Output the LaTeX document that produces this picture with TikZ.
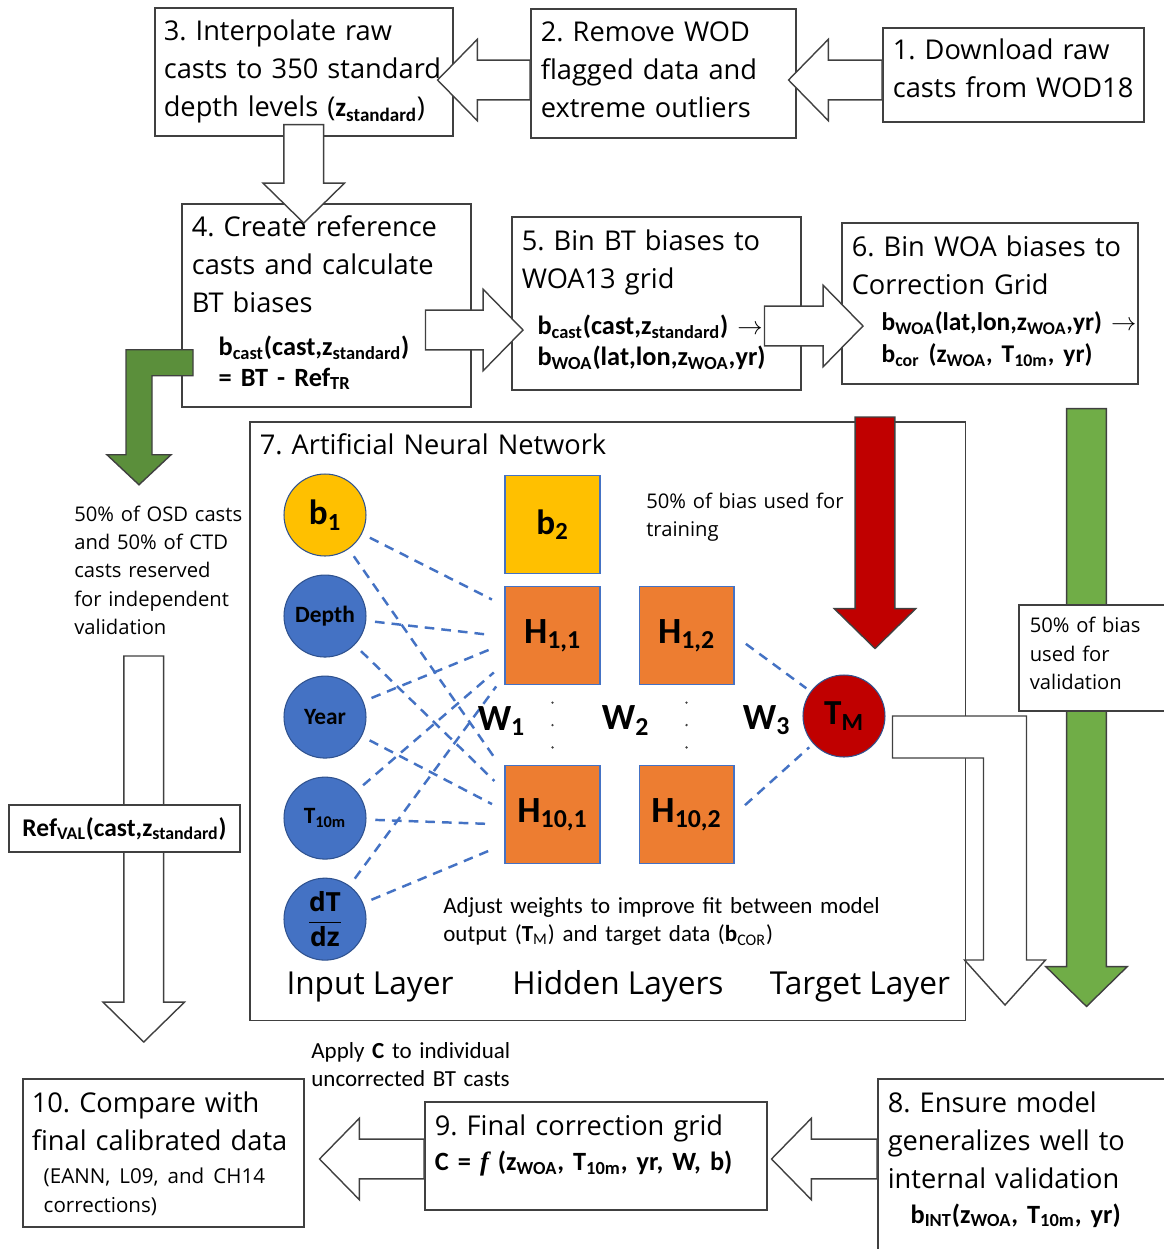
\documentclass[tikz,border=0pt]{standalone}
\usepackage{fontspec}
\setmainfont{Open Sans}
\newfontfamily\calib{Carlito}
\newfontfamily\serifb{Liberation Serif}
\usetikzlibrary{positioning,calc}
\definecolor{boxline}{RGB}{64,64,64}
\definecolor{netyellow}{RGB}{255,192,0}
\definecolor{netblue}{RGB}{68,114,196}
\definecolor{circline}{RGB}{47,82,143}
\definecolor{netorange}{RGB}{237,125,49}
\definecolor{netred}{RGB}{192,0,0}
\definecolor{greenlight}{RGB}{112,173,71}
\definecolor{greendark}{RGB}{91,143,59}
\frenchspacing

\newcommand{\sbs}[1]{\textsubscript{#1}}
\newcommand{\fml}{\calib\bfseries\fontsize{15}{17.6}\selectfont}
% straight block arrow from tail #2 to tip #3
\newcommand{\blockarrow}[3][white]{%
  \draw[blockarrow,fill=#1] let \p1=($#3!22.7pt!#2$) in
    ($#2!11.3pt!90:#3$) -- ($(\p1)!11.3pt!90:#3$) -- ($(\p1)!23.2pt!90:#3$)
    -- #3 -- ($(\p1)!23.2pt!-90:#3$) -- ($(\p1)!11.3pt!-90:#3$)
    -- ($#2!11.3pt!-90:#3$) -- cycle;}

\tikzset{
  stepbox/.style={draw=boxline, line width=0.9pt, fill=white, anchor=north west,
    align=left, inner xsep=0.2cm, inner ysep=0pt, font=\fontsize{15.5}{21.5}\selectfont},
  notetext/.style={align=left, inner sep=0pt, anchor=base west, font=\fontsize{11.5}{16.2}\selectfont},
  calibnote/.style={notetext, font=\calib\fontsize{13.1}{16.4}\selectfont},
  neuron/.style={circle, draw=circline, line width=0.6pt, fill=netblue, minimum size=1.64cm,
    inner sep=0pt, font=\calib\bfseries\fontsize{13.3}{14}\selectfont},
  hidden/.style={rectangle, draw=netblue, line width=0.6pt, fill=netorange, minimum width=1.9cm,
    minimum height=1.96cm, inner sep=0pt, font=\calib\bfseries\fontsize{21}{22}\selectfont},
  biglabel/.style={font=\calib\bfseries\fontsize{20}{22}\selectfont},
  wlabel/.style={font=\calib\bfseries\fontsize{21}{22}\selectfont},
  dashline/.style={netblue, line width=1.4pt, dash pattern=on 5.5pt off 4pt, shorten <=5pt, shorten >=8pt},
  blockarrow/.style={draw=boxline, line width=0.8pt, line join=miter},
  layerlabel/.style={anchor=base, inner sep=0pt, font=\fontsize{18}{20}\selectfont},
}

\begin{document}
\begin{tikzpicture}[x=0.02cm, y=-0.02cm]
\useasboundingbox (0,0) rectangle (1164,1249);

% processing steps
\node[stepbox, inner xsep=0.18cm, text width=5.6cm, text height=0.66cm, text depth=1.9cm] (s3) at (154,7)
  {3. Interpolate raw\\casts to 350 standard\\depth levels ({\calib\bfseries z\sbs{standard}})};
\node[stepbox, text width=4.9cm, text height=0.66cm, text depth=1.92cm] (s2) at (530,8)
  {2. Remove WOD\\flagged data and\\extreme outliers};
\node[stepbox, text width=4.82cm, text height=0.64cm, text depth=1.24cm] (s1) at (882,27)
  {1. Download raw\\casts from WOD18};
\node[stepbox, text width=5.38cm, text height=0.66cm, text depth=3.4cm] (s4) at (181,203)
  {4. Create reference\\casts and calculate\\BT biases\\[2.9pt]
   \hspace*{15.3pt}\mbox{\fml b\sbs{cast}(cast,z\sbs{standard})}\\[-3.9pt]
   \hspace*{15.3pt}\mbox{\fml = BT - Ref\sbs{TR}}};
\node[stepbox, text width=5.38cm, text height=0.68cm, text depth=2.78cm] (s5) at (511,216)
  {5. Bin BT biases to\\WOA13 grid\\[4.6pt]
   \hspace*{9pt}\mbox{\fml b\sbs{cast}(cast,z\sbs{standard}) $\rightarrow$}\\[-3.9pt]
   \hspace*{9pt}\mbox{\fml b\sbs{WOA}(lat,lon,z\sbs{WOA},yr)}};
\node[stepbox, text width=5.52cm, text height=0.68cm, text depth=2.54cm] (s6) at (841,222)
  {6. Bin WOA biases to\\Correction Grid\\[-1.1pt]
   \hspace*{17pt}\mbox{\fml\fontsize{14.5}{17}\selectfont b\sbs{WOA}(lat,lon,z\sbs{WOA},yr) $\rightarrow$}\\[-3.4pt]
   \hspace*{17pt}\mbox{\fml\fontsize{14.5}{17}\selectfont b\sbs{cor} (z\sbs{WOA}, T\sbs{10m}, yr)}};
\node[stepbox, inner xsep=0.18cm, text width=5.26cm, text height=0.68cm, text depth=2.28cm] (s10) at (22,1078)
  {10. Compare with\\final calibrated data\\[-2.8pt]
   \hspace*{6.8pt}{\fontsize{11.7}{16.2}\selectfont (EANN, L09, and CH14}\\[-5.1pt]
   \hspace*{6.8pt}{\fontsize{11.7}{16.2}\selectfont corrections)}};
\node[stepbox, text width=6.44cm, text height=0.68cm, text depth=1.48cm] (s9) at (424,1101)
  {9. Final correction grid\\[-1.7pt]
   \mbox{\fml C = {\serifb\bfseries\itshape f} (z\sbs{WOA}, T\sbs{10m}, yr, W, b)}};
\node[stepbox, text width=6cm, text height=0.68cm, text depth=5cm] (s8) at (877,1078)
  {8. Ensure model\\generalizes well to\\internal validation\\[-1.7pt]
   \hspace*{13pt}\mbox{\fml b\sbs{INT}(z\sbs{WOA}, T\sbs{10m}, yr)}};
\node[stepbox, text width=13.92cm, text height=0.66cm, text depth=11.32cm] (s7) at (249,421)
  {7. Artificial Neural Network};

% network
\node[neuron, fill=netyellow, biglabel] (b1) at (325,515) {b\sbs{1}};
\node[neuron, below=0.36cm of b1] (depth) {Depth};
\node[neuron, below=0.36cm of depth] (year) {Year};
\node[neuron, below=0.36cm of year] (tten) {T\sbs{10m}};
\node[neuron, below=0.36cm of tten] (dtdz) {\fontsize{15}{16}\selectfont$\displaystyle\frac{\mathbf{dT}}{\mathbf{dz}}$};
\node[hidden, fill=netyellow, biglabel] (b2) at (552.5,524.5) {b\sbs{2}};
\node[hidden, below=0.24cm of b2] (H11) {H\sbs{1,1}};
\node[hidden, right=0.76cm of H11] (H12) {H\sbs{1,2}};
\node[hidden, below=1.6cm of H11] (H101) {H\sbs{10,1}};
\node[hidden, right=0.76cm of H101] (H102) {H\sbs{10,2}};
\node[neuron, fill=netred, biglabel] (TM) at (844,716) {T\sbs{M}};

\foreach \n/\f/\g in {b1/0.20/0.07, depth/0.51/0.26, year/0.58/0.46, tten/0.78/0.60, dtdz/0.90/0.80}{
  \draw[dashline] (\n) -- ($(H11.north west)!\f!(H11.south west)$);
  \draw[dashline] (\n) -- ($(H101.north west)!\g!(H101.south west)$);
}
\draw[dashline, shorten <=8pt, shorten >=3pt] (H12.east) -- (TM);
\draw[dashline, shorten <=8pt, shorten >=3pt] (H102.east) -- (TM);
\foreach \f in {0.22,0.5,0.78}{
  \fill[black!75] ($(H11.south)!\f!(H101.north)$) circle (1.3);
  \fill[black!75] ($(H12.south)!\f!(H102.north)$) circle (1.3);
}
\node[wlabel] (w1) at ($(H11.west)!0.5!(H101.west)+(-3,-4)$) {W\sbs{1}};
\node[wlabel] (w2) at ($(H11.east)!0.5!(H12.west)+(6,85)$) {W\sbs{2}};
\node[wlabel] (w3) at ($(H12.east |- TM.west)!0.5!(TM.west)+(-2,4)$) {W\sbs{3}};

\node[notetext, text width=5cm] (train) at (646,508) {50\% of bias used for\\training};
\node[calibnote, text width=9cm] (adjust) at (443,913)
  {Adjust weights to improve fit between model\\output (\textbf{T}\sbs{M}) and target data (\textbf{b}\sbs{COR})};
\node[layerlabel] (inlayer) at (370,994) {Input Layer};
\node[layerlabel] (hidlayer) at (618,994) {Hidden Layers};
\node[layerlabel] (tarlayer) at (860,994) {Target Layer};

% side notes
\node[notetext, text width=3.5cm] (osd) at (74,521)
  {50\% of OSD casts\\and 50\% of CTD\\casts reserved\\for independent\\validation};
\node[calibnote, text width=4.2cm] (apply) at (311,1058) {Apply \textbf{C} to individual\\uncorrected BT casts};

% block arrows
\coordinate (t12) at (s1.west |- 0,80);
\coordinate (h12) at ($(s2.east |- 0,80)+(-8,0)$);
\coordinate (t23) at (s2.west |- 0,80);
\coordinate (h23) at ($(s3.east |- 0,80)+(-16,0)$);
\coordinate (t34) at ($(s3.south)+(0,-12)$);
\coordinate (h34) at ($(s3.south |- s4.north)+(0,20)$);
\coordinate (t45) at ($(s4.east |- 0,330)+(-46,0)$);
\coordinate (h45) at ($(s5.west |- 0,330)+(12,0)$);
\coordinate (t56) at ($(s5.east |- 0,326)+(-37,0)$);
\coordinate (h56) at ($(s6.west |- 0,326)+(22,0)$);
\coordinate (tred) at ($(TM.north |- s7.north)+(31,-4)$);
\coordinate (hred) at ($(TM.north)+(31,-26)$);
\coordinate (tgrn) at ($(s6.south east)+(-52,24)$);
\coordinate (hgrn) at ($(s6.south east |- s7.south)+(-52,-15)$);
\coordinate (tval) at ($(s10.north)+(-19.5,-422)$);
\coordinate (hval) at ($(s10.north)+(-19.5,-36)$);
\coordinate (t89) at (s8.west |- 0,1159);
\coordinate (h89) at ($(s9.east |- 0,1159)+(4,0)$);
\coordinate (t910) at (s9.west |- 0,1159);
\coordinate (h910) at ($(s10.east |- 0,1159)+(15,0)$);

\blockarrow{(t12)}{(h12)}
\blockarrow{(t23)}{(h23)}
\blockarrow{(t34)}{(h34)}
\blockarrow{(t45)}{(h45)}
\blockarrow{(t56)}{(h56)}
\blockarrow[netred]{(tred)}{(hred)}
\blockarrow[greenlight]{(tgrn)}{(hgrn)}
\blockarrow{(tval)}{(hval)}
\blockarrow{(t89)}{(h89)}
\blockarrow{(t910)}{(h910)}
\draw[blockarrow, fill=greendark, shift={(s4.west)}] (12,44.5) -- (-55,44.5) -- (-55,149.5) -- (-74,149.5)
  -- (-42,179.5) -- (-10,149.5) -- (-29,149.5) -- (-29,70.5) -- (12,70.5) -- cycle;
\draw[blockarrow, fill=white, shift={(TM.east)}] (7,0) -- (141,0) -- (141,244) -- (160,244)
  -- (119.5,289) -- (79,244) -- (98,244) -- (98,42) -- (7,42) -- cycle;

\node[stepbox, font=\fontsize{11.5}{16.2}\selectfont, inner xsep=0.22cm, text width=4cm,
  text height=0.56cm, text depth=1.56cm] (val) at (1018,604) {50\% of bias\\used for\\validation};
\node[draw=boxline, line width=0.9pt, fill=white, minimum width=4.62cm, minimum height=0.94cm, inner sep=0pt,
  font=\calib\bfseries\fontsize{14.5}{16}\selectfont] (ref) at (124.5,828.5) {Ref\sbs{VAL}(cast,z\sbs{standard})};
\end{tikzpicture}
\end{document}
